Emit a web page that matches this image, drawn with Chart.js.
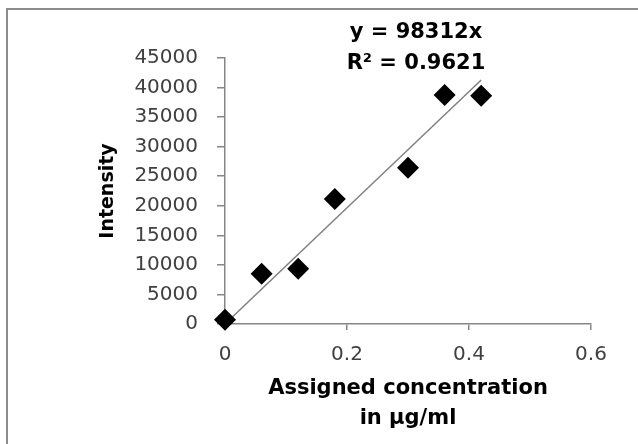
<!DOCTYPE html>
<html>
<head>
<meta charset="utf-8">
<script src="https://cdn.jsdelivr.net/npm/chart.js@4.4.1/dist/chart.umd.min.js"></script>
<style>
  html, body { margin: 0; padding: 0; background: #fff; }
  #frame { position: absolute; left: 6px; top: 8px; width: 700px; height: 500px;
           border-left: 2px solid #8c8c8c; border-top: 2px solid #8c8c8c; }
  #calib { position: absolute; left: 0; top: 0; }
</style>
</head>
<body>
<div id="frame"></div>
<canvas id="calib" width="638" height="444"></canvas>
<script>
// concentration (µg/ml) vs intensity
const concentration = [0, 0.06, 0.12, 0.18, 0.30, 0.36, 0.42];
const intensity = [700, 8500, 9350, 21150, 26450, 38750, 38600];

// linear trend through origin
const slope = 98312;
const rSquared = 0.9621;
const trendX = [0, 0.42];

const xTicks = [0, 0.2, 0.4, 0.6];
const yMax = 45000;
const yStep = 5000;

const tickFont = { family: "DejaVu Sans", size: 20 };
const titleFont = { family: "DejaVu Sans", size: 19, weight: "bold" };

const equationLabel = {
  id: "equationLabel",
  afterDraw(chart) {
    const ctx = chart.ctx;
    ctx.save();
    ctx.font = "bold 21px 'DejaVu Sans'";
    ctx.fillStyle = "#000";
    ctx.textAlign = "center";
    ctx.textBaseline = "middle";
    ctx.fillText("y = " + slope + "x", 416, 33);
    ctx.fillText("R² = " + rSquared, 416, 64);
    ctx.restore();
  }
};

let ctx = document.getElementById("calib").getContext("2d");

let chart = new Chart(ctx, {
  type: "scatter",
  data: {
    datasets: [
      {
        label: "Intensity",
        data: concentration.map((c, i) => ({ x: c, y: intensity[i] })),
        pointStyle: "rectRot",
        pointRadius: 11,
        pointHoverRadius: 11,
        backgroundColor: "#000",
        borderColor: "#000",
        borderWidth: 0,
        clip: false,
        order: 1
      },
      {
        label: "Linear",
        type: "line",
        data: trendX.map(x => ({ x: x, y: slope * x })),
        borderColor: "#808080",
        borderWidth: 1.5,
        pointRadius: 0,
        fill: false,
        clip: false,
        order: 2
      }
    ]
  },
  plugins: [equationLabel],
  options: {
    responsive: false,
    animation: false,
    layout: { padding: { left: 88, top: 58, right: 47, bottom: 0 } },
    plugins: {
      legend: { display: false },
      tooltip: { enabled: false }
    },
    scales: {
      x: {
        type: "linear",
        min: 0,
        max: 0.6,
        afterBuildTicks: scale => { scale.ticks = xTicks.map(v => ({ value: v })); },
        afterFit: scale => { scale.height = 120; },
        grid: { display: true, drawOnChartArea: false, drawTicks: true, tickLength: 6, color: "#868686", lineWidth: 1.5 },
        border: { color: "#868686", width: 1.5 },
        ticks: { font: tickFont, color: "#404040", padding: 13, maxRotation: 0, callback: v => String(v) },
        title: {
          display: true,
          text: ["Assigned concentration", "in µg/ml"],
          font: { family: "DejaVu Sans", size: 21, weight: "bold", lineHeight: 1.45 },
          color: "#000",
          padding: { top: 0, bottom: 10 }
        }
      },
      y: {
        min: 0,
        max: yMax,
        afterFit: scale => { scale.width = 137; },
        grid: { display: true, drawOnChartArea: false, drawTicks: true, tickLength: 8, color: "#868686", lineWidth: 1.5 },
        border: { color: "#868686", width: 1.5 },
        ticks: { stepSize: yStep, font: tickFont, color: "#404040", padding: 19, callback: v => String(v) },
        title: {
          display: true,
          text: "Intensity",
          font: titleFont,
          color: "#000",
          padding: { top: 9, bottom: 0 }
        }
      }
    }
  }
});
</script>
</body>
</html>
